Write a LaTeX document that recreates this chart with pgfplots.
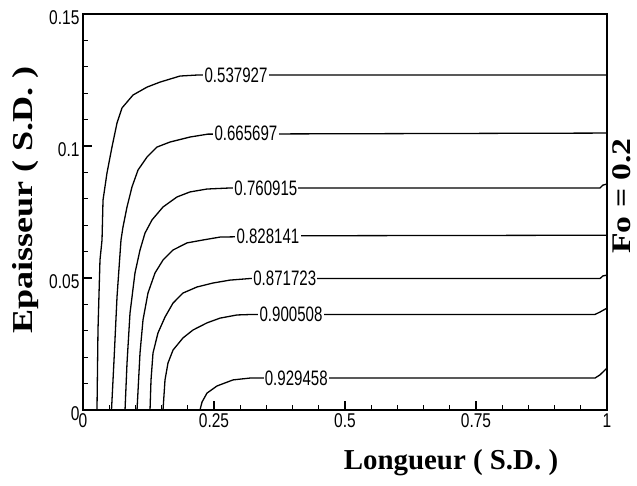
\documentclass[border=0pt]{standalone}
\usepackage{fontspec}
\setmainfont{Liberation Serif}
\newfontfamily\ticksf[FakeStretch=0.78]{Liberation Sans}
\newfontfamily\labsf[FakeStretch=0.72]{Liberation Sans}
\newfontfamily\vlab[FakeStretch=1.25]{Liberation Serif}
\usepackage{pgfplots}
\pgfplotsset{compat=1.18}
\begin{document}
\begin{tikzpicture}
\begin{axis}[
  scale only axis, width=524bp, height=396bp,
  xmin=0, xmax=1, ymin=0, ymax=0.15,
  axis line style={line width=1.6bp},
  xtick={0,0.25,0.5,0.75,1}, ytick={0,0.05,0.1,0.15},
  xticklabels={0,0.25,0.5,0.75,1}, yticklabels={0,0.05,0.1,0.15},
  minor x tick num=4, minor y tick num=4,
  tick align=inside, tick pos=left,
  major tick length=9bp, minor tick length=5bp,
  every tick/.style={black, line width=1.2bp},
  ticklabel style={font=\ticksf\fontsize{20}{20}\selectfont},
  yticklabel style={yshift=-4bp},
  /pgf/number format/assume math mode=true,
  contour/.style={black, line width=1.3bp, mark=none},
  clip=false,
]
\addplot[contour] coordinates {(0.0267,0) (0.0286,0.0303) (0.0324,0.0568) (0.0363,0.0644) (0.0382,0.0795) (0.0458,0.0898) (0.0553,0.0996) (0.0649,0.1087) (0.0744,0.1144) (0.0954,0.1193) (0.1221,0.1223) (0.1469,0.1242) (0.1851,0.1265) (0.2195,0.1269) (1.0,0.1269)};
\addplot[contour] coordinates {(0.0544,0) (0.0592,0.0189) (0.0649,0.0428) (0.0725,0.0644) (0.0763,0.0693) (0.0840,0.0769) (0.0935,0.0845) (0.1050,0.0909) (0.1221,0.0958) (0.1412,0.0996) (0.1660,0.1015) (0.2042,0.1034) (0.2385,0.1045) (1.0,0.1049)};
\addplot[contour] coordinates {(0.0802,0) (0.0840,0.0178) (0.0897,0.0367) (0.0992,0.0519) (0.1088,0.0606) (0.1183,0.0670) (0.1317,0.0720) (0.1527,0.0769) (0.1794,0.0807) (0.2042,0.0826) (0.2366,0.0837) (0.2805,0.0841) (0.9866,0.0841) (0.9924,0.0852) (1.0,0.0856)};
\addplot[contour] coordinates {(0.1031,0) (0.1088,0.0216) (0.1145,0.0341) (0.1240,0.0443) (0.1374,0.0519) (0.1527,0.0568) (0.1718,0.0606) (0.1985,0.0633) (0.2290,0.0644) (0.2615,0.0655) (0.4,0.0660) (1.0,0.0662)};
\addplot[contour] coordinates {(0.1279,0) (0.1298,0.0114) (0.1336,0.0216) (0.1431,0.0292) (0.1565,0.0352) (0.1718,0.0405) (0.1908,0.0443) (0.2176,0.0466) (0.2481,0.0481) (0.2805,0.0492) (0.3187,0.0498) (0.9866,0.0498) (0.9924,0.0508) (1.0,0.0511)};
\addplot[contour] coordinates {(0.1527,0) (0.1565,0.0114) (0.1622,0.0178) (0.1718,0.0227) (0.1908,0.0273) (0.2099,0.0303) (0.2366,0.0330) (0.2615,0.0348) (0.2939,0.0360) (0.3244,0.0362) (0.9771,0.0362) (0.9866,0.0371) (1.0,0.0386)};
\addplot[contour] coordinates {(0.2233,0) (0.2271,0.0030) (0.2366,0.0064) (0.2557,0.0091) (0.2863,0.0114) (0.3187,0.0121) (0.9771,0.0121) (0.9866,0.0133) (1.0,0.0159)};
\begin{scope}[every node/.style={fill=white, inner sep=1.2bp, font=\labsf\fontsize{21}{21}\selectfont}]
\node at (axis cs:0.292,0.1269) {0.537927};
\node at (axis cs:0.311,0.1049) {0.665697};
\node at (axis cs:0.349,0.0841) {0.760915};
\node at (axis cs:0.353,0.0659) {0.828141};
\node at (axis cs:0.385,0.0498) {0.871723};
\node at (axis cs:0.397,0.0362) {0.900508};
\node at (axis cs:0.407,0.0121) {0.929458};
\end{scope}
\end{axis}
\node[font=\bfseries\fontsize{29}{29}\selectfont] at (368bp,-53bp) {Longueur ( S.D. )};
\node[font=\vlab\bfseries\fontsize{29}{29}\selectfont, rotate=90] at (-57bp,210bp) {Epaisseur ( S.D. )};
\node[font=\vlab\bfseries\fontsize{27}{27}\selectfont, rotate=90, inner sep=0pt] at (539bp,214bp) {Fo = 0.2};
\pgfresetboundingbox
\path (-83bp,-76bp) rectangle (554bp,410bp);
\end{tikzpicture}
\end{document}
